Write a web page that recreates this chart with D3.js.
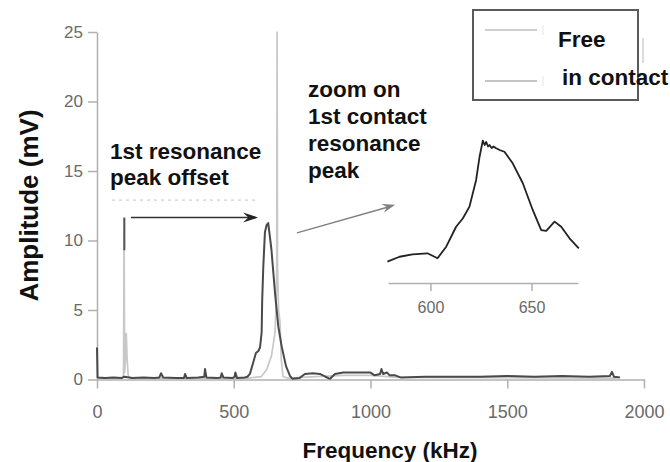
<!DOCTYPE html>
<html>
<head>
<meta charset="utf-8">
<script src="https://cdn.jsdelivr.net/npm/d3@7"></script>
<style>
  html, body { margin: 0; padding: 0; background: #ffffff; }
  svg { display: block; }
  text { font-family: "Liberation Sans", Arial, sans-serif; }
</style>
</head>
<body>
<div id="chart"></div>
<script>
// ----------------------------------------------------------
// Data
// ----------------------------------------------------------
const xTicks = [0, 500, 1000, 1500, 2000];
const yTicks = [0, 5, 10, 15, 20, 25];
const insetTicks = [600, 650];
const legendLabels = ["Free", "in contact"];

// free cantilever spectrum (kHz, mV)
const freeFreq = [0, 90, 97, 99, 101, 104, 107, 110, 114, 120, 300, 500, 550, 600, 620, 638, 651, 655, 657,
  658.5, 660, 664, 669, 674, 680, 700, 800, 900, 1000, 1100, 1900];
const freeAmp = [0.1, 0.1, 0.3, 11.6, 0.5, 1.5, 3.3, 1.5, 0.3, 0.1, 0.1, 0.1, 0.1, 0.2, 0.7, 1.7, 3.4, 5.5, 8,
  25, 8, 5, 4.2, 1.4, 0.2, 0.1, 0.2, 0.3, 0.3, 0.15, 0.1];

// cantilever in contact spectrum (kHz, mV)
const contactFreq = [0, 2, 30, 60, 90, 100, 130, 170, 210, 228, 234, 242, 290, 318, 322, 328, 370, 392, 395, 400,
  440, 452, 456, 462, 495, 503, 506, 512, 540, 550, 559, 565, 571, 581, 590, 596, 602, 604, 608, 614, 620, 626,
  632, 638, 651, 663, 675, 691, 706, 715, 740, 760, 790, 815, 835, 852, 870, 900, 950, 1000, 1015, 1035, 1040,
  1046, 1060, 1070, 1090, 1110, 1200, 1300, 1400, 1500, 1600, 1700, 1800, 1875, 1883, 1890, 1912];
const contactAmp = [2.3, 0.15, 0.1, 0.15, 0.1, 0.2, 0.1, 0.15, 0.1, 0.15, 0.45, 0.15, 0.1, 0.1, 0.4, 0.1, 0.15, 0.2, 0.75, 0.15,
  0.1, 0.15, 0.45, 0.15, 0.1, 0.2, 0.5, 0.1, 0.15, 0.2, 0.4, 0.8, 1.2, 1.9, 2.05, 2.3, 3.4, 5.7, 8.1, 10.6, 11.1, 11.25,
  10.3, 9.3, 6.2, 3.8, 2.4, 0.96, 0.24, 0.05, 0.1, 0.4, 0.45, 0.4, 0.2, 0.05, 0.4, 0.5, 0.5, 0.5, 0.3, 0.4, 0.75,
  0.4, 0.5, 0.3, 0.3, 0.15, 0.2, 0.2, 0.2, 0.25, 0.2, 0.25, 0.2, 0.25, 0.55, 0.2, 0.15];

// zoom on the first contact resonance (kHz, arbitrary)
const insetFreq = [578.7, 584.7, 591.1, 598.5, 603.5, 607.8, 612.7, 616, 619.3, 622.6, 624.3, 625.9, 626.8, 627.6,
  628.5, 629.2, 630.3, 631.2, 632.5, 634.5, 636.6, 640.7, 645.7, 650.6, 654.8, 657.3, 661.4, 664.7, 668.8, 673.4];
const insetAmp = [1.42, 1.75, 1.91, 1.98, 1.65, 2.42, 3.75, 4.3, 5.09, 6.87, 8.42, 9.49, 9.2, 9.4, 9.1, 9.2, 9.0,
  9.1, 8.98, 8.85, 8.75, 7.98, 6.65, 4.87, 3.53, 3.47, 4.09, 3.75, 2.98, 2.31];

// ----------------------------------------------------------
// Setup
// ----------------------------------------------------------
const width = 670, height = 462;
const axisColor = "#b0b0b0";
const tickColor = "#6a6a6a";
const inkColor = "#111111";

const svg = d3.select("#chart")
  .append("svg")
  .attr("width", width)
  .attr("height", height);

const x = d3.scaleLinear().domain([0, 2000]).range([97, 644]);
const y = d3.scaleLinear().domain([0, 25]).range([379.5, 32]);

const xi = d3.scaleLinear().domain([579, 673]).range([388, 578]);
const yi = d3.scaleLinear().domain([0, 10]).range([283, 133]);

function styleAxis(g, size) {
  g.select(".domain").attr("stroke", axisColor).attr("stroke-width", 1.5);
  g.selectAll(".tick line").attr("stroke", axisColor).attr("stroke-width", 1.5);
  g.selectAll(".tick text")
    .attr("fill", tickColor)
    .attr("font-size", size)
    .attr("font-family", "'Liberation Sans', Arial, sans-serif");
}

// stealth arrow head pointing along the given angle (radians)
function arrowHead(tx, ty, angle, len, half, color) {
  svg.append("path")
    .attr("d", `M0,0L${-len},${-half}L${-len * 0.65},0L${-len},${half}Z`)
    .attr("transform", `translate(${tx},${ty}) rotate(${angle * 180 / Math.PI})`)
    .attr("fill", color);
}

// ----------------------------------------------------------
// Axes
// ----------------------------------------------------------
svg.append("g")
  .attr("transform", `translate(${x(0)},0)`)
  .call(d3.axisLeft(y).tickValues(yTicks).tickSize(9).tickSizeOuter(0).tickPadding(5))
  .call(g => styleAxis(g, 17));

svg.append("g")
  .attr("transform", `translate(0,${y(0)})`)
  .call(d3.axisBottom(x).tickValues(xTicks).tickFormat(d3.format("d"))
    .tickSize(9).tickSizeOuter(0).tickPadding(17))
  .call(g => styleAxis(g, 18));

// ----------------------------------------------------------
// Spectra
// ----------------------------------------------------------
const line = d3.line().x(d => x(d[0])).y(d => y(d[1]));

svg.append("path")
  .datum(d3.zip(freeFreq, freeAmp))
  .attr("fill", "none")
  .attr("stroke", "#c8c8c8")
  .attr("stroke-width", 1.7)
  .attr("stroke-linejoin", "round")
  .attr("d", line);

svg.append("path")
  .datum(d3.zip(contactFreq, contactAmp))
  .attr("fill", "none")
  .attr("stroke", "#4a4a4a")
  .attr("stroke-width", 2)
  .attr("stroke-linejoin", "round")
  .attr("d", line);

// ----------------------------------------------------------
// Offset annotation
// ----------------------------------------------------------
svg.append("line")
  .attr("x1", x(100)).attr("x2", x(100))
  .attr("y1", y(11.65)).attr("y2", y(9.3))
  .attr("stroke", "#555").attr("stroke-width", 2);

svg.append("line")
  .attr("x1", x(55)).attr("x2", x(589))
  .attr("y1", y(12.9)).attr("y2", y(12.9))
  .attr("stroke", "#cfcfcf").attr("stroke-width", 1.2)
  .attr("stroke-dasharray", "3 4");

svg.append("line")
  .attr("x1", x(124)).attr("x2", x(580))
  .attr("y1", y(11.65)).attr("y2", y(11.65))
  .attr("stroke", "#333").attr("stroke-width", 1.6);
arrowHead(x(589), y(11.65), 0, 15, 5, "#222");

svg.append("text")
  .attr("x", 110).attr("y", 159)
  .attr("font-size", 22.5).attr("font-weight", "bold").attr("fill", inkColor)
  .selectAll("tspan")
  .data(["1st resonance", "peak offset"])
  .join("tspan")
  .attr("x", 110)
  .attr("dy", (d, i) => i ? 26 : 0)
  .text(d => d);

// ----------------------------------------------------------
// Zoom annotation
// ----------------------------------------------------------
const zoomStart = [731, 10.55], zoomEnd = [1090, 12.57];
svg.append("line")
  .attr("x1", x(zoomStart[0])).attr("y1", y(zoomStart[1]))
  .attr("x2", x(zoomEnd[0]) - 6).attr("y2", y(zoomEnd[1]) + 2)
  .attr("stroke", "#808080").attr("stroke-width", 1.4);
arrowHead(x(zoomEnd[0]), y(zoomEnd[1]),
  Math.atan2(y(zoomEnd[1]) - y(zoomStart[1]), x(zoomEnd[0]) - x(zoomStart[0])), 13, 4.5, "#808080");

svg.append("text")
  .attr("font-size", 22.5).attr("font-weight", "bold").attr("fill", inkColor)
  .selectAll("tspan")
  .data(["zoom on", "1st contact", "resonance", "peak"])
  .join("tspan")
  .attr("x", 308)
  .attr("y", (d, i) => 97 + i * 27)
  .text(d => d);

// ----------------------------------------------------------
// Inset
// ----------------------------------------------------------
svg.append("g")
  .attr("transform", "translate(0,283)")
  .call(d3.axisBottom(xi).tickValues(insetTicks).tickSize(8).tickSizeOuter(0).tickPadding(11))
  .call(g => styleAxis(g, 16));

svg.append("path")
  .datum(d3.zip(insetFreq, insetAmp))
  .attr("fill", "none")
  .attr("stroke", "#222")
  .attr("stroke-width", 1.8)
  .attr("stroke-linejoin", "round")
  .attr("d", d3.line().x(d => xi(d[0])).y(d => yi(d[1])));

// ----------------------------------------------------------
// Legend
// ----------------------------------------------------------
const legend = svg.append("g");
legend.append("rect")
  .attr("x", 473).attr("y", 10)
  .attr("width", 165).attr("height", 90)
  .attr("fill", "#fff")
  .attr("stroke", "#5a5a5a").attr("stroke-width", 2);

legend.append("line")
  .attr("x1", 643).attr("x2", 643).attr("y1", 38).attr("y2", 63)
  .attr("stroke", "#d0d0d0").attr("stroke-width", 1.5);

const legendColors = ["#cfcfcf", "#c4c4c4"];
legendLabels.forEach((lab, i) => {
  const ly = i ? 81 : 30;
  legend.append("line")
    .attr("x1", 485).attr("x2", 537).attr("y1", ly).attr("y2", ly)
    .attr("stroke", legendColors[i]).attr("stroke-width", 2);
  legend.append("line")
    .attr("x1", 543).attr("x2", 543).attr("y1", ly - 5).attr("y2", ly + 5)
    .attr("stroke", "#e6e6e6").attr("stroke-width", 1);
  legend.append("text")
    .attr("x", i ? 562 : 558)
    .attr("y", i ? 85 : 47)
    .attr("font-size", 22.5).attr("font-weight", "bold").attr("fill", inkColor)
    .text(lab);
});

// ----------------------------------------------------------
// Axis titles
// ----------------------------------------------------------
svg.append("text")
  .attr("x", 390).attr("y", 458)
  .attr("text-anchor", "middle")
  .attr("font-size", 22.5).attr("font-weight", "bold").attr("fill", inkColor)
  .text("Frequency (kHz)");

svg.append("text")
  .attr("transform", "translate(38,205.5) rotate(-90)")
  .attr("text-anchor", "middle")
  .attr("font-size", 26).attr("font-weight", "bold").attr("fill", inkColor)
  .text("Amplitude (mV)");
</script>
</body>
</html>
